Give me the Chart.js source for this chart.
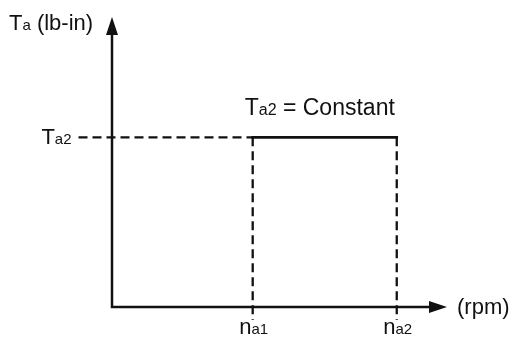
<!DOCTYPE html>
<html lang="en">
<head>
  <meta charset="UTF-8" />
  <title>Constant torque region</title>
  <script src="https://cdn.jsdelivr.net/npm/chart.js"></script>
  <style>
    html, body { margin: 0; padding: 0; background: #fff; }
    #wrap { width: 514px; height: 343px; }
  </style>
</head>
<body>
<div id="wrap"><canvas id="chart"></canvas></div>

<script>
  // Speed points (rpm) and torque level, in chart units
  const speeds = [4.2, 8.5];          // n_a1, n_a2
  const speedLabels = ['n', 'n'];
  const speedSubs = ['a1', 'a2'];
  const torqueLevel = 5.85;           // T_a2
  const axisMax = [10, 10];           // x max, y max
  const leadIn = -1.0;                // dashed guide start (left of y axis)
  const dropBelow = -0.45;            // dashed guide end (below x axis)

  const font = '"Liberation Sans", Arial, sans-serif';

  // Draw text made of [text, isSub] parts
  function drawParts(ctx, parts, x, y, align, big) {
    big = big || 22;
    const small = Math.round(big * 0.68);
    let w = 0;
    parts.forEach(p => {
      ctx.font = (p[1] ? small : big) + 'px ' + font;
      w += ctx.measureText(p[0]).width;
    });
    let cx = align === 'center' ? x - w / 2 : align === 'right' ? x - w : x;
    parts.forEach(p => {
      ctx.font = (p[1] ? small : big) + 'px ' + font;
      ctx.fillText(p[0], cx, y);
      cx += ctx.measureText(p[0]).width;
    });
  }

  const axesPlugin = {
    id: 'axesPlugin',
    afterDatasetsDraw(chart) {
      const ctx = chart.ctx;
      const xs = chart.scales.x, ys = chart.scales.y;
      const x0 = xs.getPixelForValue(0), y0 = ys.getPixelForValue(0);
      const xEnd = xs.getPixelForValue(axisMax[0]);
      const yEnd = ys.getPixelForValue(axisMax[1]);
      ctx.save();
      ctx.strokeStyle = '#111';
      ctx.fillStyle = '#111';
      ctx.lineWidth = 2.5;
      // axes
      ctx.beginPath();
      ctx.moveTo(x0, y0 + 1.2); ctx.lineTo(x0, yEnd + 10);
      ctx.moveTo(x0 - 1.2, y0); ctx.lineTo(xEnd - 10, y0);
      ctx.stroke();
      // arrow heads
      ctx.beginPath();
      ctx.moveTo(x0, yEnd); ctx.lineTo(x0 - 6, yEnd + 18); ctx.lineTo(x0 + 6, yEnd + 18);
      ctx.closePath(); ctx.fill();
      ctx.beginPath();
      ctx.moveTo(xEnd, y0); ctx.lineTo(xEnd - 18, y0 - 6); ctx.lineTo(xEnd - 18, y0 + 6);
      ctx.closePath(); ctx.fill();

      // labels
      ctx.textBaseline = 'alphabetic';
      drawParts(ctx, [['T', 0], ['a', 1], [' (lb-in)', 0]], 9, yEnd + 13, 'left');
      drawParts(ctx, [['(rpm)', 0]], xEnd + 10, y0 + 7, 'left');
      const yT = ys.getPixelForValue(torqueLevel);
      drawParts(ctx, [['T', 0], ['a2', 1]], xs.getPixelForValue(leadIn) - 7, yT + 7, 'right');
      drawParts(ctx, [['T', 0], ['a2', 1], [' = Constant', 0]],
        xs.getPixelForValue(speeds[0]) - 8, yT - 22, 'left', 23);
      speeds.forEach((s, i) => {
        drawParts(ctx, [[speedLabels[i], 0], [speedSubs[i], 1]],
          xs.getPixelForValue(s) + 1, y0 + 27, 'center');
      });
      ctx.restore();
    }
  };

  const dashStyle = { borderColor: '#111', borderWidth: 2.3, borderDash: [9, 5], pointRadius: 0, showLine: true, clip: false, fill: false };

  new Chart(document.getElementById('chart'), {
    type: 'scatter',
    data: {
      datasets: [
        Object.assign({ data: [{ x: leadIn, y: torqueLevel }, { x: speeds[0], y: torqueLevel }] }, dashStyle),
        Object.assign({ data: [{ x: speeds[0], y: torqueLevel }, { x: speeds[0], y: dropBelow }] }, dashStyle),
        Object.assign({ data: [{ x: speeds[1], y: torqueLevel }, { x: speeds[1], y: dropBelow }] }, dashStyle),
        { data: [{ x: speeds[0], y: torqueLevel }, { x: speeds[1], y: torqueLevel }],
          borderColor: '#111', borderWidth: 2.6, pointRadius: 0, showLine: true, clip: false, fill: false,
          borderCapStyle: 'square' }
      ]
    },
    options: {
      responsive: true,
      maintainAspectRatio: false,
      animation: false,
      layout: { padding: { left: 112, top: 17, right: 67, bottom: 36 } },
      plugins: { legend: { display: false }, tooltip: { enabled: false } },
      scales: {
        x: { type: 'linear', display: false, min: 0, max: axisMax[0] },
        y: { type: 'linear', display: false, min: 0, max: axisMax[1] }
      }
    },
    plugins: [axesPlugin]
  });
</script>
</body>
</html>
